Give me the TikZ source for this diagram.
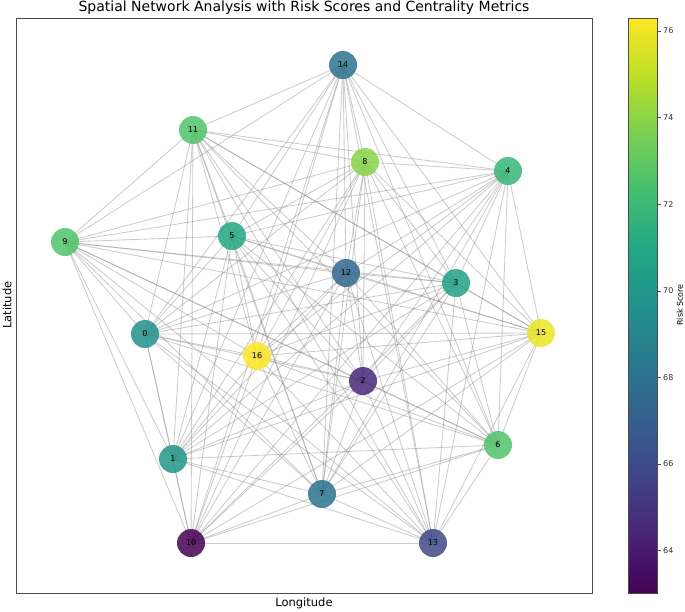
\documentclass[tikz,border=0pt]{standalone}
\usepackage{fontspec}
\setmainfont{DejaVu Sans}
\usetikzlibrary{positioning}
\pgfdeclarelayer{bg}
\pgfsetlayers{bg,main}

% viridis
\definecolor{vir0}{HTML}{440154}
\definecolor{vir1}{HTML}{482475}
\definecolor{vir2}{HTML}{414487}
\definecolor{vir3}{HTML}{355F8D}
\definecolor{vir4}{HTML}{2A788E}
\definecolor{vir5}{HTML}{21918C}
\definecolor{vir6}{HTML}{22A884}
\definecolor{vir7}{HTML}{44BF70}
\definecolor{vir8}{HTML}{7AD151}
\definecolor{vir9}{HTML}{BDDF26}
\definecolor{vir10}{HTML}{FDE725}

\begin{document}
\begin{tikzpicture}[x=1pt, y=-1pt,
    site/.style={circle, minimum size=28pt, inner sep=0pt, fill opacity=0.85, text opacity=1,
        font=\fontsize{8}{9}\selectfont},
    link/.style={gray, opacity=0.4, line width=0.85pt},
    tick/.style={font=\fontsize{8}{9}\selectfont, text=black!80, anchor=west, inner sep=0pt}]
    \useasboundingbox (0,0) rectangle (685,611);

    \node (title) at (304,7.5) {\fontsize{14}{16}\selectfont Spatial Network Analysis with Risk Scores and Centrality Metrics};
    \draw[line width=0.8pt, black!70] (16,18) rectangle (592,593);
    \node (xlab) at (304,603) {\fontsize{11.5}{13}\selectfont Longitude};
    \node[rotate=90] (ylab) at (7,305) {\fontsize{11.5}{13}\selectfont Latitude};

    \node[site, fill=vir5] (n0) at (145,334) {0};
    \node[site, fill=vir5!80!vir6] (n1) at (173,459) {1};
    \node[site, fill=vir1!80!vir2] (n2) at (363,381) {2};
    \node[site, fill=vir6!70!vir5] (n3) at (456,283) {3};
    \node[site, fill=vir7!60!vir6] (n4) at (508,171) {4};
    \node[site, fill=vir6] (n5) at (232,236) {5};
    \node[site, fill=vir7!80!vir8] (n6) at (498,445) {6};
    \node[site, fill=vir4!80!vir3] (n7) at (322,494) {7};
    \node[site, fill=vir8!80!vir9] (n8) at (365,162) {8};
    \node[site, fill=vir7!80!vir8] (n9) at (65,242) {9};
    \node[site, fill=vir0] (n10) at (191,543) {10};
    \node[site, fill=vir7!80!vir8] (n11) at (193,130) {11};
    \node[site, fill=vir3!70!vir4] (n12) at (346,273) {12};
    \node[site, fill=vir2!80!vir3] (n13) at (433,543) {13};
    \node[site, fill=vir4!80!vir3] (n14) at (343,65) {14};
    \node[site, fill=vir10!70!vir9] (n15) at (541,333) {15};
    \node[site, fill=vir10] (n16) at (257,356) {16};

    % every pair is linked
    \begin{pgfonlayer}{bg}
    \foreach \i in {0,...,15}{
        \pgfmathtruncatemacro\k{\i+1}
        \foreach \j in {\k,...,16}
            \draw[link] (n\i.center) -- (n\j.center);
    }
    \end{pgfonlayer}

    % colour bar
    \foreach \s in {0,...,9}{
        \pgfmathtruncatemacro\k{\s+1}
        \shade[bottom color=vir\s, top color=vir\k] (628,593-57.5*\s) rectangle (657,593-57.5*\s-57.5);
    }
    \draw[black!70, line width=0.6pt] (628,18) rectangle (657,593);
    \foreach \v in {64,66,...,76}{
        \draw[black!70] (657,31+43.3*76-43.3*\v) -- ++(4,0)
            node[tick, right=2pt] {\v};
    }
    \node[rotate=90, font=\fontsize{8}{9}\selectfont] (cblab) at (680,305) {Risk Score};
\end{tikzpicture}
\end{document}
